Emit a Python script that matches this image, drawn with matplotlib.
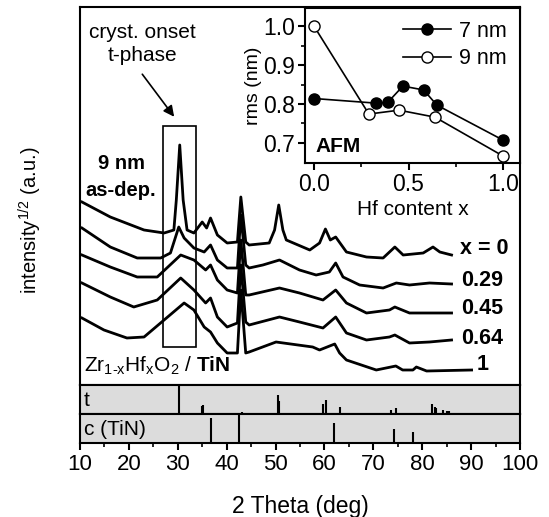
import matplotlib
matplotlib.use('Agg')
import matplotlib.pyplot as plt
from matplotlib.patches import Rectangle

plt.rcParams['font.family'] = ['Liberation Sans', 'DejaVu Sans']
plt.rcParams['mathtext.fontset'] = 'custom'
plt.rcParams['mathtext.rm'] = 'Liberation Sans'
plt.rcParams['mathtext.it'] = 'Liberation Sans:italic'
plt.rcParams['mathtext.bf'] = 'Liberation Sans:bold'
plt.rcParams['axes.linewidth'] = 1.5

# XRD patterns, 2 theta (deg) vs sqrt intensity (a.u., stacked)
tt_x0 = [10.4, 16.2, 23.1, 27.2, 29.2, 29.7, 30.4, 31.1, 31.9, 33.3, 35.0, 35.9, 36.7, 38.1, 40.1,
         42.2, 42.9, 43.9, 44.6, 48.7, 49.8, 50.65, 51.5, 52.2, 57.0, 59.0, 60.2, 61.2, 62.3, 64.5,
         68.6, 72.0, 74.4, 76.1, 80.2, 82.2, 83.6, 86.0]
int_x0 = [183, 168, 155, 152, 155, 185, 240, 185, 155, 152, 163, 157, 167, 150, 142,
          143, 188, 143, 140, 142, 155, 180, 155, 145, 135, 142, 156, 145, 148, 133,
          128, 127, 138, 130, 132, 138, 133, 130]

tt_029 = [10.4, 16.2, 21.7, 26.5, 28.5, 30.2, 31.3, 33.3, 35.4, 36.7, 38.1, 40.1, 42.2, 42.9, 43.9,
          44.6, 47.4, 50.8, 54.9, 58.3, 61.0, 62.3, 63.8, 67.2, 72.0, 74.7, 77.4, 81.5, 86.0]
int_029 = [157, 138, 127, 127, 132, 158, 147, 137, 133, 140, 125, 117, 117, 170, 120,
           117, 120, 125, 115, 110, 113, 122, 108, 100, 97, 102, 100, 102, 101]

tt_045 = [10.4, 16.2, 21.7, 25.8, 30.6, 33.3, 35.7, 36.7, 38.1, 40.1, 42.2, 42.9, 43.9, 44.6, 50.8,
          54.9, 59.7, 62.3, 64.5, 68.6, 73.3, 74.4, 77.4, 86.0]
int_045 = [130, 118, 108, 108, 130, 125, 115, 120, 105, 95, 92, 145, 90, 90, 97,
           92, 85, 95, 82, 72, 75, 78, 72, 72]

tt_064 = [10.4, 16.2, 21.0, 25.8, 30.6, 33.3, 35.7, 36.7, 38.1, 40.1, 42.2, 42.9, 43.9, 44.6, 50.8,
          54.9, 59.7, 62.3, 64.5, 68.6, 73.3, 74.4, 77.4, 81.5, 86.0]
int_064 = [102, 88, 78, 85, 107, 95, 82, 87, 68, 58, 62, 120, 63, 60, 68,
           63, 57, 68, 52, 45, 48, 50, 42, 43, 45]

tt_1 = [10.4, 14.9, 19.6, 23.1, 27.2, 31.3, 33.3, 35.4, 36.7, 38.1, 40.1, 42.2, 42.9, 43.9, 44.6,
        50.1, 57.6, 59.0, 62.1, 63.1, 64.5, 70.6, 74.6, 76.0, 78.1, 78.8, 80.9, 90.1]
int_1 = [67, 55, 47, 48, 65, 82, 75, 58, 53, 42, 32, 32, 95, 32, 33,
         43, 38, 35, 41, 32, 25, 15, 19, 15, 15, 18, 14, 15]

curve_labels = ['x = 0', '0.29', '0.45', '0.64', '1']
label_x = [87.7, 88.05, 88.05, 88.05, 91.2]
label_y = [137, 105, 76, 47, 20]

# reference reflections: position (deg), relative height
t_pos = [30.3, 34.95, 35.2, 43.1, 50.45, 50.8, 59.7, 60.4, 63.1, 73.55, 74.7, 82.1, 82.6, 82.9,
         84.3, 85.1, 85.5]
t_rel = [1.0, 0.28, 0.32, 0.08, 0.65, 0.45, 0.35, 0.47, 0.25, 0.15, 0.2, 0.33, 0.25, 0.2,
         0.15, 0.12, 0.12]
c_pos = [36.8, 42.6, 61.9, 74.2, 78.1]
c_rel = [0.87, 1.0, 0.69, 0.47, 0.37]

# AFM roughness inset
hf_7nm = [0.0, 0.33, 0.39, 0.47, 0.58, 0.65, 1.0]
rms_7nm = [0.814, 0.802, 0.804, 0.846, 0.836, 0.797, 0.707]
hf_9nm = [0.0, 0.29, 0.45, 0.64, 1.0]
rms_9nm = [1.0, 0.774, 0.784, 0.766, 0.666]

W, H = 549, 517
fig = plt.figure(figsize=(W / 100, H / 100), dpi=100)


def box(l, t, r, b):
    return [l / W, 1 - b / H, (r - l) / W, (b - t) / H]


ax = fig.add_axes(box(80, 7, 520, 385))
at = fig.add_axes(box(80, 385, 520, 414), sharex=ax)
ac = fig.add_axes(box(80, 414, 520, 443), sharex=ax)

for x, y in [(tt_x0, int_x0), (tt_029, int_029), (tt_045, int_045), (tt_064, int_064), (tt_1, int_1)]:
    ax.plot(x, y, color='black', lw=2.0)
for lab, lx, ly in zip(curve_labels, label_x, label_y):
    ax.text(lx, ly, lab, fontsize=15.5, fontweight='bold', ha='left', va='center')

ax.set_xlim(10, 100)
ax.set_ylim(0, 378)
ax.set_yticks([])
ax.tick_params(axis='x', which='both', bottom=False, labelbottom=False)

ax.add_patch(Rectangle((27.0, 38), 6.7, 221.5, fill=False, lw=1.2, ec='black'))
ax.text(22.7, 341, 'cryst. onset\nt-phase', fontsize=15, ha='center', va='center', linespacing=1.25)
ax.annotate('', xy=(29.6, 266), xytext=(22.4, 313),
            arrowprops=dict(arrowstyle='-|>', color='black', lw=1.2, mutation_scale=16))
ax.text(18.4, 208, '9 nm\nas-dep.', fontsize=14.5, fontweight='bold', ha='center', va='center',
        linespacing=1.5)
ax.text(10.8, 13, r'Zr$_{\text{1-x}}$Hf$_{\text{x}}$O$_{\text{2}}$ / $\mathbf{TiN}$',
        fontsize=15, ha='left', va='baseline')

for a, pos, rel, name in [(at, t_pos, t_rel, 't'), (ac, c_pos, c_rel, 'c (TiN)')]:
    a.set_facecolor('#dcdcdc')
    a.vlines(pos, 0, rel, color='black', lw=1.5)
    a.set_ylim(0, 1)
    a.set_yticks([])
    a.text(10.8, 0.45, name, fontsize=15, va='center', ha='left')

at.tick_params(axis='x', which='both', bottom=False, labelbottom=False)
ac.set_xticks(range(10, 101, 10))
ac.set_xticks(range(15, 100, 10), minor=True)
ac.tick_params(axis='x', which='major', direction='out', length=5, width=1.5, labelsize=16, pad=3)
ac.tick_params(axis='x', which='minor', direction='out', length=3, width=1.2)
ac.set_xlabel('2 Theta (deg)', fontsize=16.5, labelpad=14)

fig.text(30 / W, 1 - 220 / H, r'intensity$^{\mathrm{1/2}}$ (a.u.)', rotation=90, fontsize=14.5,
         ha='center', va='center')

# inset
ai = fig.add_axes(box(305, 8, 520, 163))
ai.plot(hf_7nm, rms_7nm, '-o', color='black', mfc='black', ms=8, lw=1.2, label='7 nm')
ai.plot(hf_9nm, rms_9nm, '-o', color='black', mfc='white', ms=8, lw=1.2, label='9 nm')
ai.set_xlim(-0.048, 1.09)
ai.set_ylim(0.648, 1.047)
ai.set_xticks([0.0, 0.5, 1.0])
ai.set_xticks([0.25, 0.75], minor=True)
ai.set_yticks([0.7, 0.8, 0.9, 1.0])
ai.set_yticks([0.75, 0.85, 0.95], minor=True)
ai.xaxis.set_major_formatter(matplotlib.ticker.FormatStrFormatter('%.1f'))
ai.yaxis.set_major_formatter(matplotlib.ticker.FormatStrFormatter('%.1f'))
ai.tick_params(which='major', direction='out', length=5, width=1.5, labelsize=16.5, pad=2)
ai.tick_params(which='minor', direction='out', length=3, width=1.2)
ai.set_xlabel('Hf content x', fontsize=15, labelpad=3)
ai.set_ylabel('rms (nm)', fontsize=14, labelpad=1)
ai.text(0.01, 0.69, 'AFM', fontsize=15, fontweight='bold', ha='left', va='center')
ai.legend(loc='upper right', frameon=False, fontsize=15.5, handlelength=2.2, handletextpad=0.4,
          borderaxespad=0.2, labelspacing=0.3)

fig.savefig('out.png', dpi=100)
